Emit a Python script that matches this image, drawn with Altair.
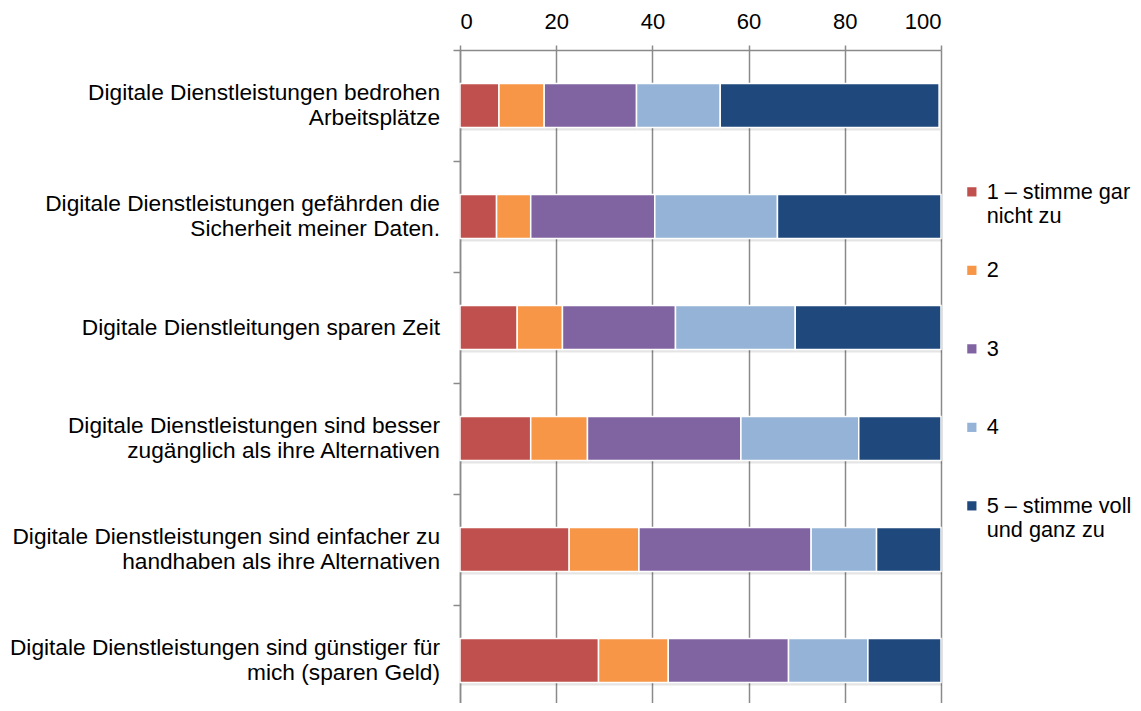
import altair as alt
import pandas as pd

categories = [
    "Digitale Dienstleistungen bedrohen|Arbeitsplätze",
    "Digitale Dienstleistungen gefährden die|Sicherheit meiner Daten.",
    "Digitale Dienstleitungen sparen Zeit",
    "Digitale Dienstleistungen sind besser|zugänglich als ihre Alternativen",
    "Digitale Dienstleistungen sind einfacher zu|handhaben als ihre Alternativen",
    "Digitale Dienstleistungen sind günstiger für|mich (sparen Geld)",
]
series = [
    "1 – stimme gar|nicht zu",
    "2",
    "3",
    "4",
    "5 – stimme voll|und ganz zu",
]
colors = ["#C0504D", "#F79646", "#8064A2", "#95B3D7", "#1F497D"]

s1 = [8.1, 7.6, 11.9, 14.7, 22.7, 28.8]
s2 = [9.4, 7.1, 9.4, 11.8, 14.5, 14.5]
s3 = [19.2, 25.8, 23.5, 31.9, 35.8, 25.0]
s4 = [17.4, 25.5, 24.9, 24.5, 13.6, 16.5]
s5 = [45.5, 34.0, 30.3, 17.1, 13.4, 15.2]
values = [s1, s2, s3, s4, s5]

x_ticks = [0, 20, 40, 60, 80, 100]

rows = []
for si, (name, vals) in enumerate(zip(series, values)):
    for ci, cat in enumerate(categories):
        rows.append({"category": cat, "series": name, "order": si, "value": vals[ci]})
df = pd.DataFrame(rows)
df_labels = pd.DataFrame({"category": categories})

FONT = "Liberation Sans"
GRID = "#8a8a8a"

x_axis = alt.Axis(
    orient="top",
    values=x_ticks,
    title=None,
    grid=True,
    gridColor=GRID,
    gridWidth=1.5,
    domain=True,
    domainColor=GRID,
    domainWidth=1.5,
    tickColor=GRID,
    tickWidth=1.5,
    tickSize=5,
    labelFontSize=22,
    labelColor="#000000",
    labelFont=FONT,
    labelPadding=12,
)
y_axis = alt.Axis(
    title=None,
    labels=False,
    tickBand="extent",
    domain=True,
    domainColor=GRID,
    domainWidth=1.5,
    tickColor=GRID,
    tickWidth=1.5,
    tickSize=7,
    grid=False,
)

x_scale = alt.Scale(domain=[0, 100], nice=False)
y_scale = alt.Scale(paddingInner=0, paddingOuter=0)

x_enc = alt.X("value:Q", stack="zero", scale=x_scale, axis=x_axis)
y_enc = alt.Y("category:N", sort=categories, scale=y_scale, axis=y_axis)

shadow = alt.Chart(df).mark_bar(
    height=44, color="#000000", opacity=0.10, yOffset=3, xOffset=1
).encode(
    x=x_enc,
    y=y_enc,
    order=alt.Order("order:Q"),
)

bars = alt.Chart(df).mark_bar(
    height=44, stroke="#ffffff", strokeWidth=1.5
).encode(
    x=x_enc,
    y=y_enc,
    color=alt.Color(
        "series:N",
        sort=series,
        scale=alt.Scale(domain=series, range=colors),
        legend=alt.Legend(
            title=None,
            orient="none",
            legendX=501,
            legendY=131,
            labelExpr="split(datum.label, '|')",
            labelFontSize=21.7,
            labelFont=FONT,
            labelColor="#000000",
            symbolType="square",
            symbolSize=85,
            symbolStrokeWidth=0,
            gridAlign="all",
            rowPadding=31.5,
        ),
    ),
    order=alt.Order("order:Q"),
)

label_style = dict(
    align="right",
    baseline="middle",
    lineBreak="|",
    lineHeight=25,
    fontSize=22.7,
    font=FONT,
    color="#000000",
)

labels_two = (
    alt.Chart(df_labels)
    .transform_filter("indexof(datum.category, '|') >= 0")
    .mark_text(dy=-12.5, **label_style)
    .encode(
        y=alt.Y("category:N", sort=categories, scale=y_scale, axis=y_axis),
        x=alt.value(-20),
        text="category:N",
    )
)
labels_one = (
    alt.Chart(df_labels)
    .transform_filter("indexof(datum.category, '|') < 0")
    .mark_text(**label_style)
    .encode(
        y=alt.Y("category:N", sort=categories, scale=y_scale, axis=y_axis),
        x=alt.value(-20),
        text="category:N",
    )
)

chart = (
    alt.layer(shadow, bars, labels_two, labels_one)
    .properties(
        width=481,
        height=666,
        autosize=alt.AutoSizeParams(type="none"),
        padding={"left": 452, "top": 42, "right": 192, "bottom": -13},
    )
    .configure_view(stroke=None)
)

chart.save("out.html", embed_options={"renderer": "svg", "actions": False})
